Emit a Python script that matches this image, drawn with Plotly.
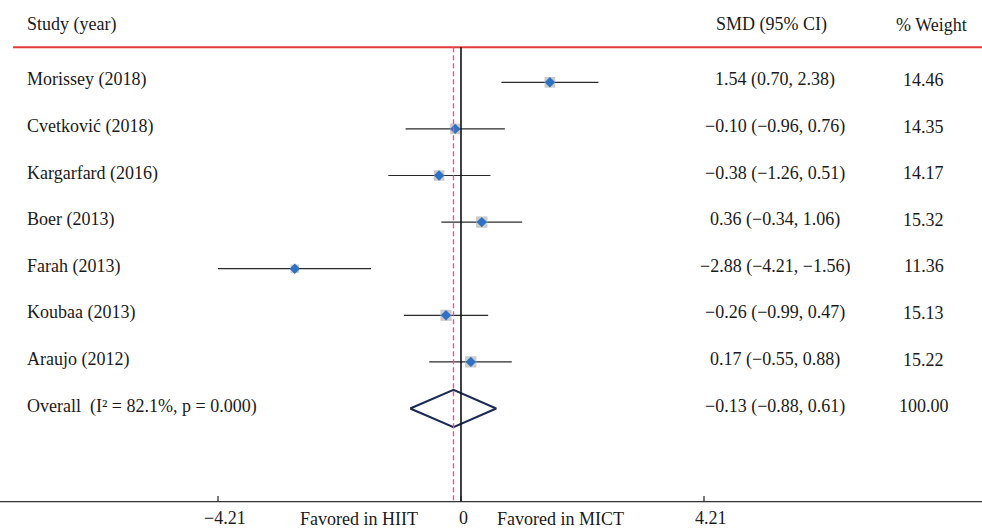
import plotly.graph_objects as go

studies = ["Morissey (2018)", "Cvetković (2018)", "Kargarfard (2016)", "Boer (2013)",
           "Farah (2013)", "Koubaa (2013)", "Araujo (2012)"]
smd = [1.54, -0.10, -0.38, 0.36, -2.88, -0.26, 0.17]
lo = [0.70, -0.96, -1.26, -0.34, -4.21, -0.99, -0.55]
hi = [2.38, 0.76, 0.51, 1.06, -1.56, 0.47, 0.88]
weights = [14.46, 14.35, 14.17, 15.32, 11.36, 15.13, 15.22]
overall_label = "Overall  (I² = 82.1%, p = 0.000)"
overall = [-0.13, -0.88, 0.61]
overall_weight = "100.00"
xticks = [-4.21, 0, 4.21]
headers = ["Study (year)", "SMD (95% CI)", "% Weight"]
side_labels = ["Favored in HIIT", "Favored in MICT"]

FONT = "Liberation Serif"
W, H = 982, 529
X0, PXU = 461.0, 243.0 / 4.21      # pixel of x=0, pixels per unit
Y0, PXR = 82.3, 46.6                # pixel of first row, pixels per row


def fmt(v):
    s = f"{abs(v):.2f}"
    return ("−" + s) if v < 0 else s


rows = list(range(len(studies)))
orow = len(studies)
axis_y = 9.0
top_y = -0.75
head_y = -1.23

fig = go.Figure()

# CI lines
cx, cy = [], []
for i in rows:
    cx += [lo[i], hi[i], None]
    cy += [i, i, None]
fig.add_trace(go.Scatter(x=cx, y=cy, mode="lines", line=dict(color="#2a2a2a", width=1.2),
                         hoverinfo="skip", showlegend=False))
# weight boxes
fig.add_trace(go.Scatter(x=smd, y=rows, mode="markers",
                         marker=dict(symbol="square", color="#b5b5b5",
                                     size=[w * 0.74 for w in weights], line=dict(width=0)),
                         showlegend=False))
fig.add_trace(go.Scatter(x=smd, y=rows, mode="markers",
                         marker=dict(symbol="diamond", color="#2f72c4", size=8, line=dict(width=0)),
                         showlegend=False))
# overall diamond
fig.add_trace(go.Scatter(x=[overall[1], overall[0], overall[2], overall[0], overall[1]],
                         y=[orow, orow - 0.4, orow, orow + 0.4, orow], mode="lines",
                         line=dict(color="#1c2b55", width=2.2), showlegend=False))

shapes = []
shapes.append(dict(type="line", xref="paper", yref="y", x0=13 / W, x1=1, y0=top_y, y1=top_y,
                   line=dict(color="#e23b3b", width=2)))
shapes.append(dict(type="line", xref="x", yref="y", x0=0, x1=0, y0=top_y, y1=axis_y,
                   line=dict(color="#111111", width=1.6)))
shapes.append(dict(type="line", xref="x", yref="y", x0=overall[0], x1=overall[0], y0=top_y, y1=axis_y,
                   line=dict(color="#f0509a", width=1.4, dash="5px,3px")))
shapes.append(dict(type="line", xref="paper", yref="y", x0=0, x1=1, y0=axis_y, y1=axis_y,
                   line=dict(color="#333333", width=1.2)))
for t in xticks:
    shapes.append(dict(type="line", xref="x", yref="y", x0=t, x1=t, y0=axis_y - 0.12, y1=axis_y,
                       line=dict(color="#222222", width=1.2)))

ann = []
fs = 18
ann.append(dict(text=headers[0], xref="paper", yref="y", x=25 / W, y=head_y, xanchor="left",
                showarrow=False))
ann.append(dict(text=headers[1], xref="paper", yref="y", x=771 / W, y=head_y, xanchor="center",
                showarrow=False))
ann.append(dict(text=headers[2], xref="paper", yref="y", x=931 / W, y=head_y, xanchor="center",
                showarrow=False))
for i in rows:
    ann.append(dict(text=studies[i], xref="paper", yref="y", x=25 / W, y=i - 0.05, xanchor="left",
                    showarrow=False))
    ann.append(dict(text=f"{fmt(smd[i])} ({fmt(lo[i])}, {fmt(hi[i])})", xref="paper", yref="y",
                    x=775 / W, y=i - 0.05, xanchor="center", showarrow=False))
    ann.append(dict(text=f"{weights[i]:.2f}", xref="paper", yref="y", x=923.5 / W, y=i - 0.05,
                    xanchor="center", showarrow=False))
ann.append(dict(text=overall_label, xref="paper", yref="y", x=25 / W, y=orow - 0.05, xanchor="left",
                showarrow=False))
ann.append(dict(text=f"{fmt(overall[0])} ({fmt(overall[1])}, {fmt(overall[2])})", xref="paper", yref="y",
                x=775 / W, y=orow - 0.05, xanchor="center", showarrow=False))
ann.append(dict(text=overall_weight, xref="paper", yref="y", x=923.5 / W, y=orow - 0.05,
                xanchor="center", showarrow=False))
for t in xticks:
    lab = "0" if t == 0 else fmt(t)
    ann.append(dict(text=lab, xref="x", yref="y", x=t, y=axis_y + 0.35, xanchor="center",
                    xshift=7 if t != 0 else 2, showarrow=False))
ann.append(dict(text=side_labels[0], xref="paper", yref="y", x=359 / W, y=axis_y + 0.37,
                xanchor="center", showarrow=False))
ann.append(dict(text=side_labels[1], xref="paper", yref="y", x=560 / W, y=axis_y + 0.37,
                xanchor="center", showarrow=False))

fig.update_layout(
    width=W, height=H,
    margin=dict(l=0, r=0, t=0, b=0),
    paper_bgcolor="white", plot_bgcolor="white",
    font=dict(family=FONT, size=fs, color="#1a1a1a"),
    xaxis=dict(range=[-X0 / PXU, (W - X0) / PXU], visible=False, fixedrange=True),
    yaxis=dict(range=[(H - Y0) / PXR, -Y0 / PXR], visible=False, fixedrange=True),
    shapes=shapes, annotations=ann, showlegend=False,
)

fig.write_html("out.html", config={"displayModeBar": False},
               post_script="document.body.style.margin='0';document.body.style.overflow='hidden';")
